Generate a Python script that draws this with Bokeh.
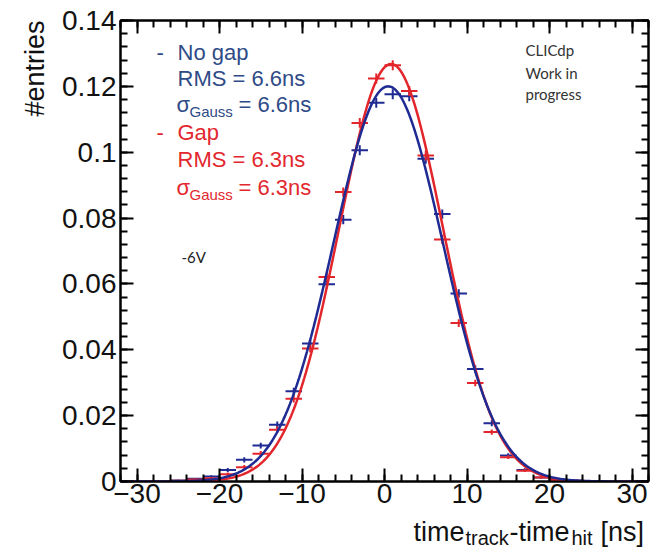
import numpy as np
from bokeh.plotting import figure
from bokeh.layouts import column
from bokeh.models import (ColumnDataSource, Label, LinearAxis, SingleIntervalTicker,
                          CustomJSTickFormatter, Range1d, Title)
from bokeh.core.properties import value
from bokeh.embed import file_html
from bokeh.resources import INLINE

# ---------------- data ----------------
bin_centers = [-25, -23, -21, -19, -17, -15, -13, -11, -9, -7, -5, -3, -1,
               1, 3, 5, 7, 9, 11, 13, 15, 17, 19, 21, 23]
bin_half_width = 1.0

no_gap = [0.0003, 0.0008, 0.0015, 0.0035, 0.0066, 0.0109, 0.0172, 0.0274, 0.0419,
          0.0599, 0.0795, 0.1006, 0.1150, 0.1176, 0.1170, 0.0980, 0.0812, 0.0571,
          0.0342, 0.0177, 0.0079, 0.0035, 0.0012, 0.0005, 0.0002]
no_gap_err = [0.0002, 0.0003, 0.0004, 0.0006, 0.0008, 0.0009, 0.0010, 0.0011, 0.0012,
              0.0013, 0.0014, 0.0015, 0.0015, 0.0015, 0.0015, 0.0015, 0.0014, 0.0013,
              0.0011, 0.0009, 0.0007, 0.0005, 0.0003, 0.0002, 0.0001]

gap = [0.0002, 0.0006, 0.0010, 0.0022, 0.0043, 0.0084, 0.0157, 0.0251, 0.0404,
       0.0621, 0.0879, 0.1089, 0.1224, 0.1264, 0.1186, 0.0990, 0.0735, 0.0481,
       0.0299, 0.0150, 0.0074, 0.0033, 0.0012, 0.0004, 0.0001]
gap_err = [0.0001, 0.0003, 0.0004, 0.0005, 0.0007, 0.0009, 0.0010, 0.0011, 0.0012,
           0.0013, 0.0014, 0.0015, 0.0015, 0.0015, 0.0015, 0.0015, 0.0014, 0.0012,
           0.0010, 0.0008, 0.0006, 0.0004, 0.0003, 0.0002, 0.0001]

fit_no_gap = {"amp": 0.1200, "mean": 0.45, "sigma": 6.6}
fit_gap = {"amp": 0.1268, "mean": 0.80, "sigma": 6.3}

x_ticks_interval = 10
y_ticks_interval = 0.02

# ---------------- colours ----------------
RED = "#E3262C"
BLUE = "#1F2B93"
BLUE_TXT = "#2F4B87"
RED_TXT = "#E2282E"
INK = "#111111"

X0, X1 = -32.0, 32.0
Y0, Y1 = 0.0, 0.14

W = 662
HP = 516          # main plot canvas height
HT = 33           # x-title strip height
BL, BR, BT, BB = 120, 14, 20, 35
FW, FH = W - BL - BR, HP - BT - BB

p = figure(width=W, height=HP, x_range=Range1d(X0, X1), y_range=Range1d(Y0, Y1),
           output_backend="svg", toolbar_location=None,
           min_border_left=BL, min_border_right=BR, min_border_top=BT, min_border_bottom=BB,
           background_fill_color="white", border_fill_color="white")
p.grid.visible = False
p.outline_line_color = "black"
p.outline_line_width = 2

xt = SingleIntervalTicker(interval=x_ticks_interval, num_minor_ticks=5)
yt = SingleIntervalTicker(interval=y_ticks_interval, num_minor_ticks=5)

xfmt = CustomJSTickFormatter(code="return tick < 0 ? '\\u2212' + Math.abs(tick) : String(tick);")
yfmt = CustomJSTickFormatter(code="return tick === 0 ? '0' : String(parseFloat(tick.toFixed(3)));")
blank = CustomJSTickFormatter(code="return '';")


def style_axis(ax, ticker, fmt, labels=True):
    ax.ticker = ticker
    ax.formatter = fmt
    ax.axis_line_color = "black"
    ax.axis_line_width = 2
    ax.major_tick_line_color = "black"
    ax.major_tick_line_width = 2
    ax.minor_tick_line_color = "black"
    ax.minor_tick_line_width = 2
    ax.major_tick_in = 13
    ax.major_tick_out = 0
    ax.minor_tick_in = 7
    ax.minor_tick_out = 0
    ax.major_label_text_font = "Liberation Sans"
    ax.major_label_text_color = INK
    if labels:
        ax.major_label_text_font_size = "28px"
    else:
        ax.major_label_text_font_size = "1px"
        ax.major_label_standoff = 0


style_axis(p.xaxis[0], xt, xfmt)
style_axis(p.yaxis[0], yt, yfmt)
p.xaxis[0].major_label_standoff = 2
p.yaxis[0].major_label_standoff = 4

top_ax = LinearAxis()
style_axis(top_ax, SingleIntervalTicker(interval=x_ticks_interval, num_minor_ticks=5), blank, labels=False)
p.add_layout(top_ax, "above")
right_ax = LinearAxis()
style_axis(right_ax, SingleIntervalTicker(interval=y_ticks_interval, num_minor_ticks=5), blank, labels=False)
p.add_layout(right_ax, "right")

# y-axis title, top aligned (ROOT style)
p.add_layout(Title(text="#entries", align="right", text_font="Liberation Sans",
                   text_font_size="27px", text_font_style="normal", text_color=INK,
                   standoff=19), "left")


# ---------------- data points with error bars ----------------
def draw_points(vals, errs, color):
    src = ColumnDataSource(dict(
        x=bin_centers, y=vals,
        xl=[c - bin_half_width for c in bin_centers],
        xr=[c + bin_half_width for c in bin_centers],
        yl=[v - e for v, e in zip(vals, errs)],
        yh=[v + e for v, e in zip(vals, errs)],
    ))
    p.segment(x0="xl", y0="y", x1="xr", y1="y", source=src, line_color=color, line_width=2)
    p.segment(x0="x", y0="yl", x1="x", y1="yh", source=src, line_color=color, line_width=2)


draw_points(no_gap, no_gap_err, BLUE)
draw_points(gap, gap_err, RED)

# ---------------- fit curves ----------------
xs = np.linspace(X0, X1, 400)


def gauss(params):
    return params["amp"] * np.exp(-0.5 * ((xs - params["mean"]) / params["sigma"]) ** 2)


p.line(xs, gauss(fit_gap), line_color=RED, line_width=2.5)
p.line(xs, gauss(fit_no_gap), line_color=BLUE, line_width=2.5)


# ---------------- texts inside the frame (canvas pixels -> data) ----------------
def to_data(px, py):
    x = X0 + (px - BL) / FW * (X1 - X0)
    y = Y0 + (BT + FH - py) / FH * (Y1 - Y0)
    return x, y


def put(text, px, py, size, color, font="Liberation Sans", align="left"):
    x, y = to_data(px, py)
    p.add_layout(Label(x=x, y=y, text=text, text_font=font, text_font_size=f"{size}px",
                       text_color=color, text_align=align, text_baseline="alphabetic"))


# legend block (py = visual centre of each line)
put("-", 156, 52, 22, BLUE_TXT)
put("No gap", 177, 52, 22, BLUE_TXT)
put("RMS = 6.6ns", 177, 78, 22, BLUE_TXT)
put("\u03c3", 176, 104, 22, BLUE_TXT)
put("Gauss", 189, 111, 15, BLUE_TXT)
put("= 6.6ns", 238, 104, 22, BLUE_TXT)
put("-", 156, 132, 22, RED_TXT)
put("Gap", 177, 132, 22, RED_TXT)
put("RMS = 6.3ns", 177, 159, 22, RED_TXT)
put("\u03c3", 176, 187, 22, RED_TXT)
put("Gauss", 189, 194, 15, RED_TXT)
put("= 6.3ns", 238, 187, 22, RED_TXT)

# CLICdp block
put("CLICdp", 525, 49, 15, "#333333", font="Lato")
put("Work in", 525, 72, 15, "#333333", font="Lato")
put("progress", 525, 93, 15, "#333333", font="Lato")

# voltage
put("-6V", 181, 256, 15, "#222222", font="Lato")

# ---------------- x-axis title strip (with subscripts) ----------------
tf = figure(width=W, height=HT, x_range=Range1d(BL, W - BR), y_range=Range1d(HT, 0),
            x_axis_type=None, y_axis_type=None, output_backend="svg", toolbar_location=None,
            min_border=0, min_border_left=BL, min_border_right=BR, min_border_top=0,
            min_border_bottom=0, outline_line_color=None,
            background_fill_color="white", border_fill_color="white")
tf.grid.visible = False

title_parts = ["time", "track", "-time", "hit", "[ns]"]
title_x = [413, 465, 509, 571, 600]
title_y = [15.5, 21.5, 15.5, 21.5, 15.5]
title_sizes = ["27px", "20px", "27px", "20px", "27px"]
tsrc = ColumnDataSource(dict(x=title_x, y=title_y, text=title_parts, size=title_sizes))
tf.text(x="x", y="y", text="text", source=tsrc, text_font=value("Liberation Sans"),
        text_font_size="size", text_color=INK, text_baseline="middle", text_align="left")

layout = column(p, tf, spacing=0)
open("out.html", "w").write(file_html(layout, INLINE))
